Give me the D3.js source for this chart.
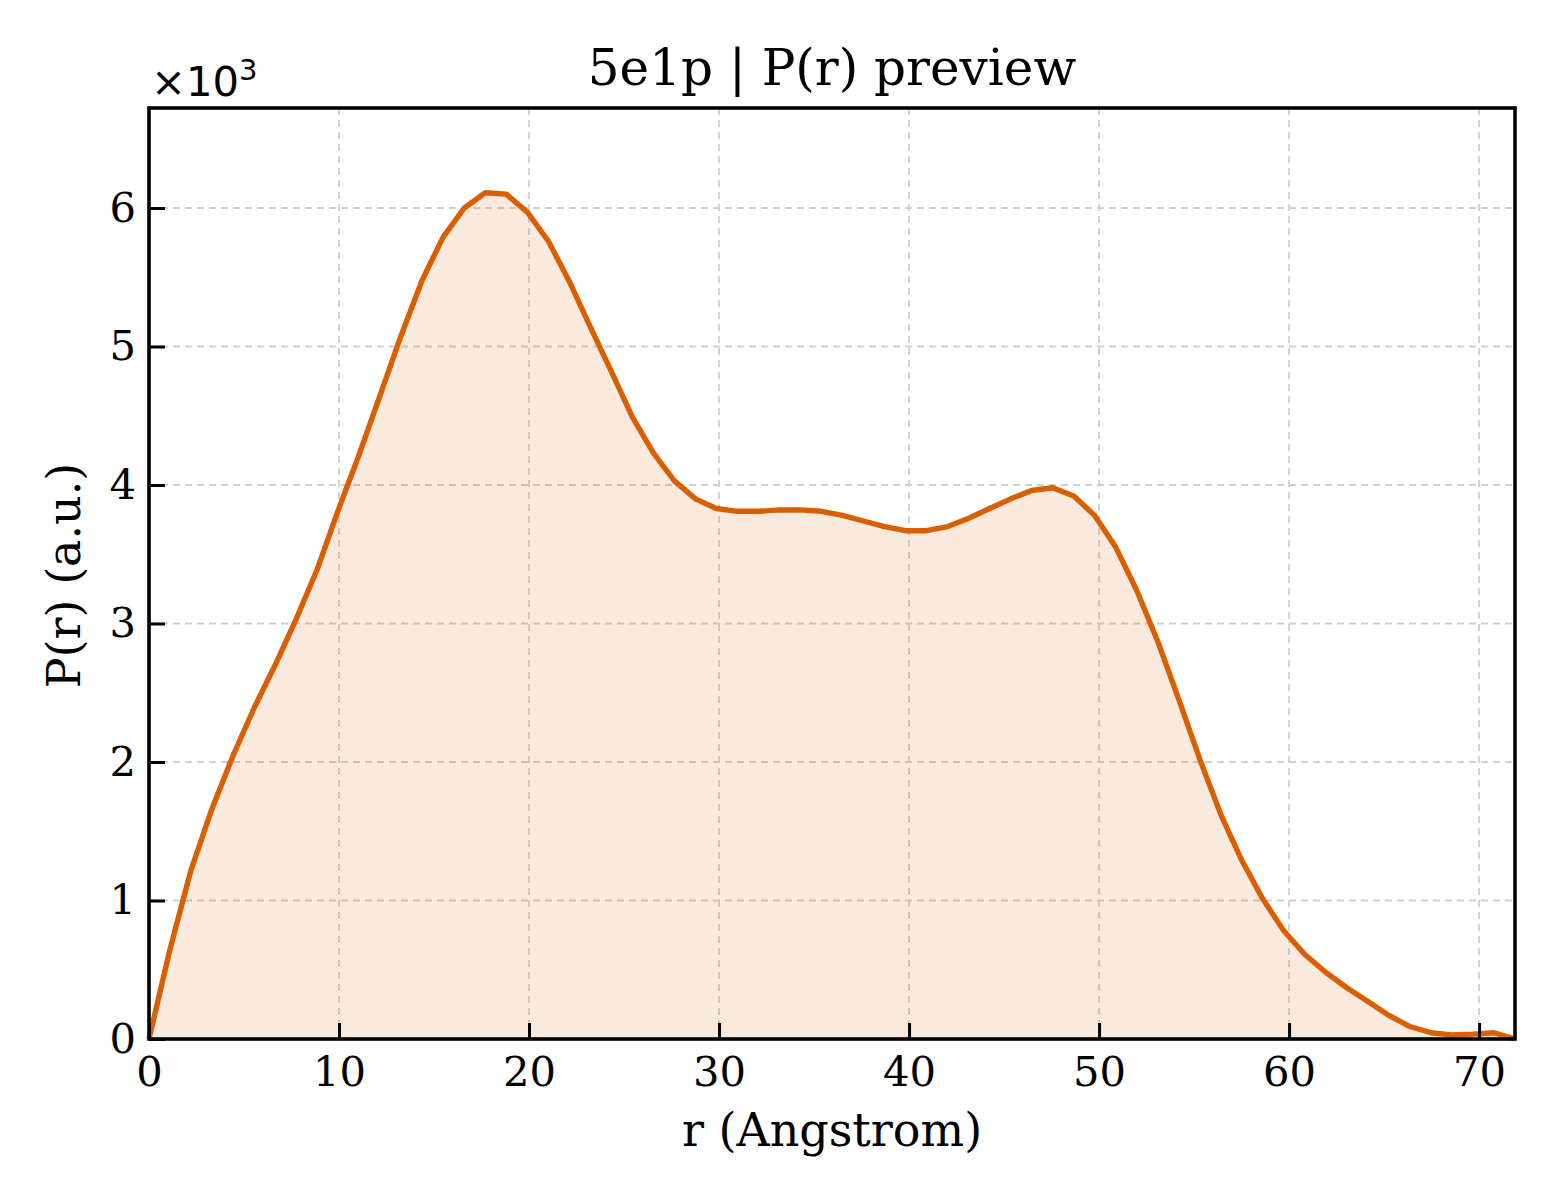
<!DOCTYPE html>
<html>
<head>
<meta charset="utf-8">
<script src="https://cdn.jsdelivr.net/npm/d3@7"></script>
<style>
  body { margin: 0; background: #fff; }
  text { font-family: "DejaVu Serif", serif; fill: #000; }
</style>
</head>
<body>
<svg id="chart" width="1560" height="1200"></svg>
<script>
// r values (Angstrom)
const rValues = [0, 1.11, 2.21, 3.32, 4.42, 5.53, 6.64, 7.74, 8.85, 9.95,
  11.06, 12.17, 13.27, 14.38, 15.48, 16.59, 17.70, 18.80, 19.91, 21.02,
  22.12, 23.23, 24.33, 25.44, 26.55, 27.65, 28.76, 29.86, 30.97, 32.08,
  33.18, 34.29, 35.39, 36.50, 37.61, 38.71, 39.82, 40.92, 42.03, 43.14,
  44.24, 45.35, 46.45, 47.56, 48.67, 49.77, 50.88, 51.98, 53.09, 54.20,
  55.30, 56.41, 57.51, 58.62, 59.73, 60.83, 61.94, 63.04, 64.15, 65.26,
  66.36, 67.47, 68.57, 69.68, 70.79, 71.89];

// P(r) in arbitrary units
const prValues = [0, 650, 1220, 1665, 2045, 2390, 2700, 3030, 3390, 3815,
  4220, 4650, 5080, 5480, 5790, 6000, 6110, 6100, 5970, 5760,
  5470, 5140, 4820, 4490, 4230, 4030, 3900, 3830, 3810, 3810,
  3820, 3820, 3810, 3780, 3740, 3700, 3670, 3670, 3700, 3760,
  3830, 3900, 3960, 3980, 3920, 3780, 3550, 3240, 2870, 2450,
  2020, 1620, 1290, 1010, 780, 610, 480, 370, 270, 170,
  90, 45, 30, 35, 45, 0];

const xTicks = [0, 10, 20, 30, 40, 50, 60, 70];
const yTicks = [0, 1000, 2000, 3000, 4000, 5000, 6000];

const LINE_COLOR = '#d95f02';
const margin = {top: 108, right: 45, bottom: 161, left: 149};

let svg = d3.select('#chart');
let width = +svg.attr('width') - margin.left - margin.right;
let height = +svg.attr('height') - margin.top - margin.bottom;

let data = rValues.map((r, i) => ({r: r, p: prValues[i]}));

let x = d3.scaleLinear()
  .domain([0, d3.max(rValues)])
  .range([0, width]);

let y = d3.scaleLinear()
  .domain([0, 6722])
  .range([height, 0]);

let g = svg.append('g')
  .attr('transform', 'translate(' + margin.left + ',' + margin.top + ')');

// grid
g.append('g')
  .selectAll('line')
  .data(xTicks)
  .join('line')
  .attr('x1', d => x(d)).attr('x2', d => x(d))
  .attr('y1', 0).attr('y2', height)
  .attr('stroke', '#d0d0d0')
  .attr('stroke-width', 1.8)
  .attr('stroke-dasharray', '7,5');

g.append('g')
  .selectAll('line')
  .data(yTicks)
  .join('line')
  .attr('x1', 0).attr('x2', width)
  .attr('y1', d => y(d)).attr('y2', d => y(d))
  .attr('stroke', '#d0d0d0')
  .attr('stroke-width', 1.8)
  .attr('stroke-dasharray', '7,5');

// filled area + line
let area = d3.area()
  .x(d => x(d.r))
  .y0(y(0))
  .y1(d => y(d.p));

let line = d3.line()
  .x(d => x(d.r))
  .y(d => y(d.p));

g.append('path')
  .datum(data)
  .attr('d', area)
  .attr('fill', LINE_COLOR)
  .attr('fill-opacity', 0.13);

g.append('path')
  .datum(data)
  .attr('d', line)
  .attr('fill', 'none')
  .attr('stroke', LINE_COLOR)
  .attr('stroke-width', 5.4)
  .attr('stroke-linejoin', 'round');

// axes, ticks pointing inwards
let xAxis = g.append('g')
  .attr('transform', 'translate(0,' + height + ')')
  .call(d3.axisBottom(x).tickValues(xTicks).tickSizeInner(-16).tickSizeOuter(0).tickPadding(17));

let yAxis = g.append('g')
  .call(d3.axisLeft(y).tickValues(yTicks).tickFormat(d => d / 1000).tickSizeInner(-16).tickSizeOuter(0).tickPadding(13));

[xAxis, yAxis].forEach(a => {
  a.select('.domain').remove();
  a.selectAll('.tick line').attr('stroke', '#000').attr('stroke-width', 3);
  a.selectAll('.tick text')
    .attr('font-family', '"DejaVu Serif", serif')
    .attr('font-size', 41.7)
    .attr('fill', '#000');
});

// frame
g.append('rect')
  .attr('width', width)
  .attr('height', height)
  .attr('fill', 'none')
  .attr('stroke', '#000')
  .attr('stroke-width', 3.6);

// labels
svg.append('text')
  .attr('x', margin.left + width / 2)
  .attr('y', 85)
  .attr('text-anchor', 'middle')
  .attr('font-size', 50)
  .text('5e1p | P(r) preview');

svg.append('text')
  .attr('x', margin.left + width / 2)
  .attr('y', 1146)
  .attr('text-anchor', 'middle')
  .attr('font-size', 46)
  .text('r (Angstrom)');

svg.append('text')
  .attr('transform', 'translate(80,' + (margin.top + height / 2 + 2) + ') rotate(-90)')
  .attr('text-anchor', 'middle')
  .attr('font-size', 46)
  .text('P(r) (a.u.)');

let offset = svg.append('text')
  .attr('x', 151)
  .attr('y', 96)
  .attr('font-size', 41.7)
  .style('font-family', '"DejaVu Sans", sans-serif');
offset.append('tspan').text('\u00d710');
offset.append('tspan').attr('dy', -16).attr('font-size', 29).text('3');
</script>
</body>
</html>
